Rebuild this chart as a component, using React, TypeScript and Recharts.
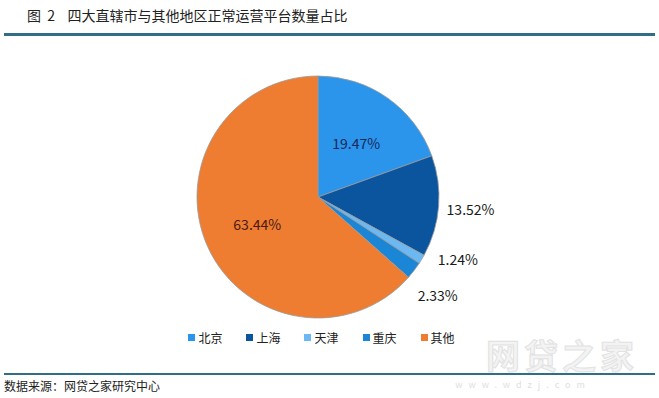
import React from 'react';
import { PieChart, Pie, Cell, Legend } from 'recharts';

const categories = ['北京', '上海', '天津', '重庆', '其他'];
const shares = [19.47, 13.52, 1.24, 2.33, 63.44];
const COLORS = ['#2B95EC', '#0B559F', '#6BB8F2', '#1C86D6', '#EE7D31'];

const data = categories.map((name, i) => ({ name, value: shares[i] }));

const FONT = '"Noto Sans CJK SC", "Noto Sans", sans-serif';
const RAD = Math.PI / 180;

// labels inside the two big slices, outside for the rest (Excel-like best fit)
const renderLabel = (props: any) => {
  const { cx, cy, midAngle, outerRadius, value, index } = props;
  const inside = value > 15;
  let r = inside ? outerRadius * 0.55 : outerRadius + 32;
  let angle = midAngle;
  if (!inside && value < 2) {
    angle += 7;
  }
  if (!inside && value >= 2 && value < 5) {
    angle -= 2;
    r += 2;
  }
  const x = cx + r * Math.cos(-angle * RAD);
  const y = cy + r * Math.sin(-angle * RAD);
  const fill = inside ? (index === 0 ? '#17285A' : '#4A1A14') : '#1a1a1a';
  return (
    <text
      x={x}
      y={y}
      fill={fill}
      textAnchor="middle"
      dominantBaseline="central"
      fontSize={14}
      fontFamily={FONT}
    >
      {`${value.toFixed(2)}%`}
    </text>
  );
};

const renderLegend = () => (
  <div
    style={{
      display: 'flex',
      justifyContent: 'center',
      gap: 24,
      fontFamily: FONT,
      fontSize: 12,
      color: '#222',
      paddingRight: 16,
    }}
  >
    {categories.map((c, i) => (
      <div key={c} style={{ display: 'flex', alignItems: 'center', gap: 3 }}>
        <span style={{ width: 7, height: 7, background: COLORS[i], display: 'inline-block' }} />
        <span>{c}</span>
      </div>
    ))}
  </div>
);

export default function App() {
  return (
    <div
      style={{
        position: 'absolute',
        left: 0,
        top: 0,
        width: 659,
        height: 398,
        background: '#fff',
        overflow: 'hidden',
        fontFamily: FONT,
      }}
    >
      <div style={{ position: 'absolute', left: 27, top: 5, fontSize: 14, color: '#222', whiteSpace: 'pre' }}>
        {'图  2    四大直辖市与其他地区正常运营平台数量占比'}
      </div>
      <div style={{ position: 'absolute', left: 4, top: 33, width: 651, height: 3, background: '#2F6E84' }} />

      <div style={{ position: 'absolute', left: 0, top: 0 }}>
        <PieChart width={659} height={398} margin={{ top: 0, right: 0, bottom: 0, left: 0 }}>
          <Pie
            data={data}
            dataKey="value"
            nameKey="name"
            cx={318}
            cy={197}
            outerRadius={121}
            startAngle={90}
            endAngle={-270}
            stroke="#9a9a9a"
            strokeWidth={0.8}
            label={renderLabel}
            labelLine={false}
            isAnimationActive={false}
          >
            {data.map((_, i) => (
              <Cell key={`cell-${i}`} fill={COLORS[i]} />
            ))}
          </Pie>
          <Legend
            content={renderLegend}
            wrapperStyle={{ position: 'absolute', left: 0, top: 329, width: 659 }}
          />
        </PieChart>
      </div>

      <div
        style={{
          position: 'absolute',
          left: 486,
          top: 330,
          fontSize: 34,
          fontWeight: 700,
          color: '#f3f3f3',
          letterSpacing: 4,
          WebkitTextStroke: '1px #e2e2e2',
        }}
      >
        网贷之家
      </div>
      <div style={{ position: 'absolute', left: 388, top: 378, width: 270, textAlign: 'center', fontSize: 9, color: '#e0e0e0', letterSpacing: 6 }}>
        www.wdzj.com
      </div>

      <div style={{ position: 'absolute', left: 4, top: 373, width: 651, height: 2, background: '#2F6E84' }} />
      <div style={{ position: 'absolute', left: 4, top: 377, fontSize: 12, color: '#222' }}>
        数据来源：网贷之家研究中心
      </div>
    </div>
  );
}
